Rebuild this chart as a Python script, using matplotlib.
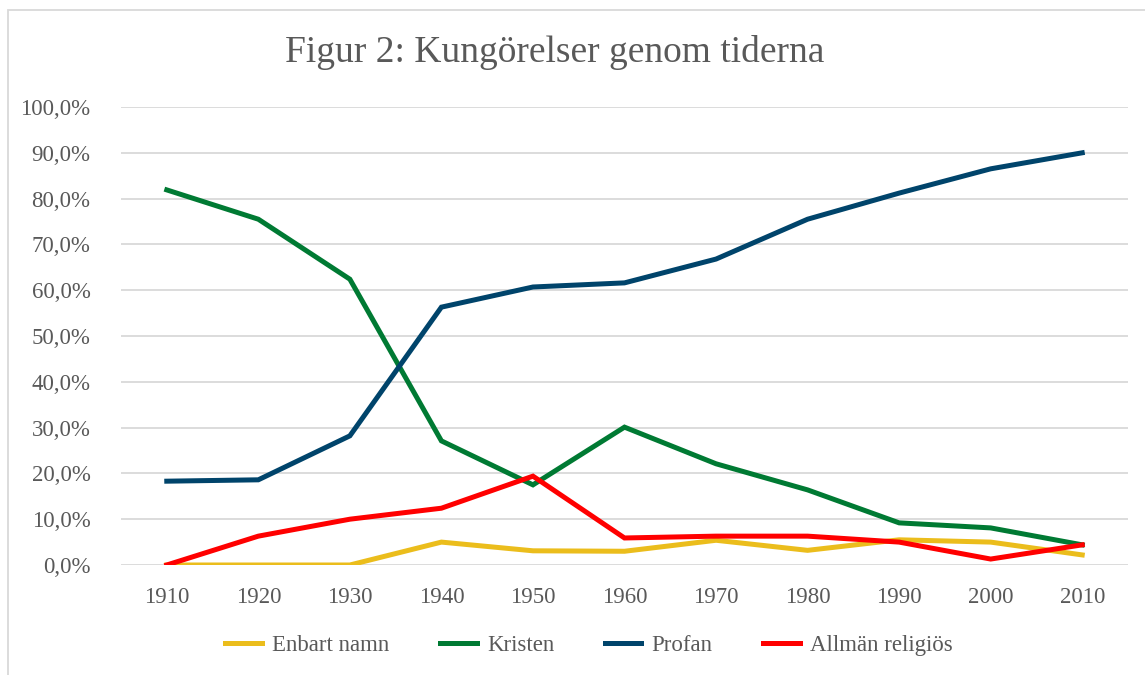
import matplotlib.pyplot as plt
from matplotlib.patches import Rectangle
from matplotlib.ticker import FuncFormatter

# Data
years = ["1910", "1920", "1930", "1940", "1950", "1960", "1970", "1980", "1990", "2000", "2010"]
enbart_namn = [0.0, 0.0, 0.0, 5.0, 3.1, 3.0, 5.4, 3.2, 5.5, 5.0, 2.2]
kristen = [81.9, 75.5, 62.4, 27.1, 17.5, 30.1, 22.1, 16.4, 9.2, 8.1, 4.4]
profan = [18.3, 18.6, 28.2, 56.3, 60.7, 61.6, 66.8, 75.5, 81.2, 86.5, 90.0]
allman_religios = [0.0, 6.3, 10.0, 12.4, 19.4, 5.9, 6.3, 6.3, 5.0, 1.3, 4.4]

series = [
    ("Enbart namn", enbart_namn, "#EBBD1C"),
    ("Kristen", kristen, "#007A33"),
    ("Profan", profan, "#00446B"),
    ("Allmän religiös", allman_religios, "#FF0000"),
]

plt.rcParams['font.family'] = ['Liberation Serif', 'DejaVu Serif']
txt_col = "#595959"

fig = plt.figure(figsize=(11.45, 6.75), dpi=100)
ax = fig.add_axes([121 / 1145, 1 - 565 / 675, (1128 - 121) / 1145, (565 - 107) / 675])

x = list(range(len(years)))
for name, vals, col in series:
    ax.plot(x, vals, color=col, lw=3.6, label=name, solid_joinstyle="miter")

ax.set_xlim(-0.5, len(years) - 0.5)
ax.set_ylim(0, 100)
ax.set_yticks(range(0, 101, 10))
ax.yaxis.set_major_formatter(FuncFormatter(lambda v, p: f"{v:.1f}%".replace(".", ",")))
ax.set_xticks(x)
ax.set_xticklabels(years)
ax.tick_params(length=0, labelsize=16.5, colors=txt_col, pad=16)
ax.tick_params(axis="y", pad=22)
ax.grid(axis="y", color="#D9D9D9", lw=1.3)
ax.set_axisbelow(True)
for s in ax.spines.values():
    s.set_visible(False)

fig.text(555 / 1145, 1 - 53 / 675, "Figur 2: Kungörelser genom tiderna",
         ha="center", va="center", fontsize=27, color=txt_col)

fig.legend(loc="center", bbox_to_anchor=(589 / 1145, 1 - 645 / 675), ncol=4,
           frameon=False, fontsize=16.5, labelcolor=txt_col, handlelength=1.6,
           columnspacing=2.2, handletextpad=0.45)

# chart frame (top/left visible)
fig.patches.append(Rectangle((8 / 1145, -0.1), 1.2, 1 - 10 / 675 + 0.1,
                             transform=fig.transFigure, fill=False,
                             edgecolor="#D9D9D9", lw=1.3))

fig.savefig("out.png", dpi=100)
